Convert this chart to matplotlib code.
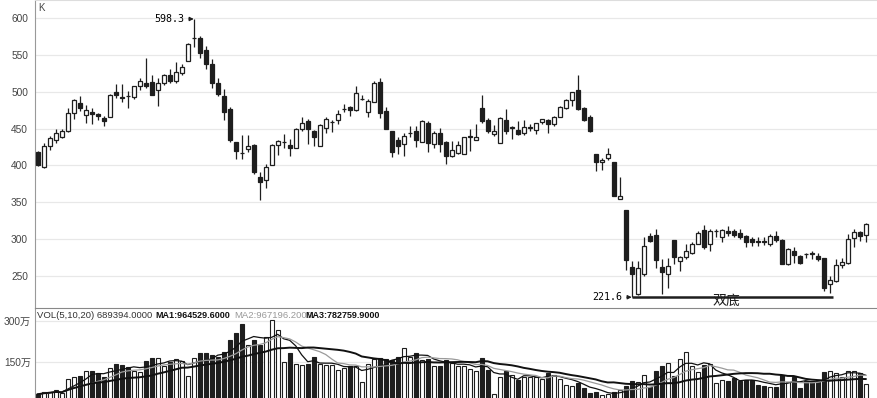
import numpy as np
import pandas as pd
import matplotlib
matplotlib.use("Agg")
import matplotlib.pyplot as plt

# ---------------- data ----------------
opens = [418, 398, 427, 434, 439, 447, 471, 485, 468, 472, 470, 464, 465, 499, 493, 494, 493, 508, 512, 513,
         502, 511, 522, 515, 525, 542, 572.5, 572, 556, 538, 512, 494, 477, 432, 417.5, 422, 428, 385, 380, 401,
         428, 431.5, 428, 424, 450, 460, 446, 427, 451, 459, 461, 476, 479, 475, 490, 472, 486, 513, 474, 446,
         435, 429, 444, 447, 432, 457, 429, 444, 432, 413, 417, 416, 439, 434, 478, 461, 442, 431, 461, 451,
         448, 444, 451, 448, 459, 462, 456, 465, 478, 488, 502, 478, 465, 415, 405, 410, 404, 355, 339.6, 262.6,
         226.4, 253.6, 304.8, 306, 262.6, 253.6, 299, 270, 276, 281.6, 294, 312.5, 294, 311.4, 303.4, 311.6, 310.6, 308, 304.8, 300,
         297.2, 297.2, 293.4, 304.8, 298.9, 266, 283.5, 277.6, 280, 280.9, 277.6, 274.4, 239.1, 243.6, 265.4, 268.5, 301.6, 309.3, 306.1]
closes = [400, 427, 437, 444, 447, 471, 488, 478, 475, 469, 467, 460, 495, 496, 491, 493.5, 507, 514, 508, 496,
          511, 523, 515, 526, 533, 565, 573, 552, 538, 512, 497, 473, 435, 420, 417, 427, 391, 377, 398, 428,
          433, 432, 424, 450, 457, 450, 439, 455, 463, 459.5, 469, 476.5, 475, 498, 490.5, 487, 512, 471, 449, 418,
          427, 440, 444.5, 434, 460, 431, 444, 429, 413, 421, 428, 439, 439.5, 438, 460, 446, 446, 464, 446, 451.5,
          442, 452, 451.5, 457, 463, 456, 465, 479, 488, 499, 477, 462, 447, 404, 408, 416, 358, 358, 271.7, 253.6,
          260.8, 291, 298, 271.7, 256, 264, 276, 276, 283.5, 294, 308, 290, 310.6, 311.6, 312.5, 308, 306, 303.4, 295.7, 295.7,
          297, 297, 304.8, 298.9, 267, 286.6, 279, 268.5, 279.8, 280.7, 273, 234.6, 244.6, 265.4, 269.9, 300.2, 309.3, 304.8, 320.6]
highs = [420, 430, 440, 450, 449, 478, 490, 494, 482, 478, 471, 467, 497, 510, 510, 501, 508, 518, 545, 522,
         518, 524, 531, 540, 538, 566, 598.3, 575, 562, 544, 519, 503, 479, 432, 441, 441, 429, 391, 402, 429,
         435, 442, 436, 451, 465, 463, 448, 456, 465, 461, 475, 483, 480, 507, 495, 490, 514, 519, 479, 447,
         438, 444, 453, 453, 462, 460, 446, 451, 433, 433, 433, 439, 449, 456, 495, 464, 455, 465, 476, 454,
         460, 462, 456, 458, 463, 463, 467, 480, 490, 500, 522, 479, 468, 415, 410, 424, 405, 384, 340, 270,
         271, 302.5, 309, 314, 273, 275, 299, 278, 293.5, 295.7, 311.6, 319, 314, 314, 314, 318, 314, 314, 306, 302.5,
         302.5, 302.5, 307, 311.6, 300, 288, 289, 279, 282, 284.4, 282, 275.3, 250.4, 273, 275.3, 307, 314, 311.6, 321.5]
lows = [399, 397, 421, 431, 437, 445, 463, 474, 457, 456, 462, 454, 465, 491, 486, 478, 490, 502, 505, 495,
        480, 509, 511, 511, 522, 541, 560, 546, 531, 505, 494, 462, 432, 409, 409, 418, 388, 353, 370, 400,
        414, 423, 413, 423, 447, 429, 427, 427, 444, 445, 456, 472, 467, 474, 489, 466, 486, 464, 449, 411,
        415, 413, 438, 425, 432, 418, 424, 418, 402, 412, 415, 416, 420, 434, 457, 444, 440, 431, 442, 436,
        441, 441, 446, 442, 456, 444, 454, 465, 477, 481, 475, 460, 445, 393, 394, 408, 358, 354, 258, 221.6,
        225, 250, 296, 261, 226, 234.6, 267, 257, 273, 280, 293.4, 286.6, 284.4, 302.5, 295.7, 304.8, 302.5, 300.2, 289.8, 291,
        291, 292, 291, 297, 266, 265, 268.5, 267, 275, 273, 271, 230, 227.8, 242.7, 260.8, 267, 289, 298, 295.7]
volumes = [29.7, 37.1, 39.5, 46.9, 33.4, 86.3, 94.9, 97.3, 115.7, 115.7, 107.1, 92.4, 128, 140.3, 137.9, 131.7, 117, 113.3, 152.6, 162.4,
           162.4, 135.4, 150.1, 158.8, 152.6, 98.5, 164.9, 180.9, 180.9, 174.7, 168.6, 184.5, 230, 254.6, 287.8, 211.6, 230, 211.6, 242.3, 303.7,
           266.9, 147.7, 183.3, 140.3, 137.9, 140.3, 166.1, 140.3, 137.9, 137.9, 119.4, 125.6, 134.2, 134.2, 74, 140.3, 158.8, 162.4, 158.8, 156.3,
           166.1, 199.3, 168.6, 180.9, 156.3, 160, 134.2, 134.2, 156.3, 144, 134.2, 135.4, 121.9, 117, 162.4, 119.4, 29.7, 94.9, 117, 101,
           82.6, 94.9, 94.9, 94.9, 86.3, 107.1, 101, 86.3, 64.1, 61.7, 70.3, 51.9, 33.4, 37.1, 27.3, 29.7, 37.1, 45.7, 61.7, 80.1,
           74, 101, 58, 115.7, 134.2, 144, 98.5, 158.8, 184.5, 134.2, 113.3, 137.9, 140.3, 70.3, 81.4, 78.9, 88.7, 78.9, 82.6, 82.6,
           64.1, 61.7, 58, 58, 101, 74, 92, 54.3, 78.9, 78.9, 78.9, 113.3, 114.5, 107.1, 94.9, 114.5, 114.5, 107.1, 68.9]  # 万
price_ticks = [250, 300, 350, 400, 450, 500, 550, 600]
vol_ticks = [150, 300]
vol_tick_labels = ["150万", "300万"]
ma_windows = [5, 10, 20]
header_values = ["689394.0000", "964529.6000", "967196.2000", "782759.9000"]

# ---------------- figure ----------------
W, H = 878, 398
fig = plt.figure(figsize=(W / 100, H / 100), dpi=100)

def fx(px):
    return px / W

def fy(py):
    return 1 - py / H

axp = fig.add_axes([fx(35), fy(308), fx(W - 35), 308 / H])
axv = fig.add_axes([fx(35), 0, fx(W - 35), 90 / H])

n = len(opens)
x = np.arange(n)
o = np.array(opens, float); c = np.array(closes, float)
h = np.array(highs, float); l = np.array(lows, float)
up = c >= o
BLACK = "#1e1e1e"
face = np.where(up, "white", BLACK)

# price
axp.vlines(x, l, h, color=BLACK, lw=0.9, zorder=2)
body_b = np.minimum(o, c)
body_h = np.maximum(np.abs(c - o), 0.4)
axp.bar(x, body_h, bottom=body_b, width=0.68, color=face, edgecolor=BLACK, linewidth=0.9, zorder=3)

xlim = (-0.45, -0.45 + (W - 35) / 6.0)
axp.set_xlim(*xlim)
axp.set_ylim(207, 624)
axp.set_yticks(price_ticks)
axp.grid(axis="y", color="#e8e8e8", lw=0.9)
axp.set_axisbelow(True)
axp.set_xticks([])
for s in ["right", "bottom"]:
    axp.spines[s].set_visible(False)
axp.spines["top"].set_color("#dddddd")
axp.spines["left"].set_color("#999999")
axp.tick_params(axis="y", length=0, pad=5, labelsize=7.3, labelcolor="#444444")
for t in axp.get_yticklabels():
    t.set_fontfamily("Liberation Sans")
axp.text(0.004, 0.99, "K", transform=axp.transAxes, ha="left", va="top",
         fontsize=7, color="#444444", family="Liberation Sans")

# annotations
imax = int(np.argmax(h))
axp.annotate("598.3", xy=(imax, h[imax]), xytext=(imax - 1.5, h[imax]),
             ha="right", va="center", fontsize=7.2, family="DejaVu Sans Mono",
             arrowprops=dict(arrowstyle="-|>", color=BLACK, lw=0.8, mutation_scale=6,
                             shrinkA=1, shrinkB=0))
imin = int(np.argmin(l))
axp.annotate("221.6", xy=(imin, l[imin]), xytext=(imin - 1.5, l[imin]),
             ha="right", va="center", fontsize=7.2, family="DejaVu Sans Mono",
             arrowprops=dict(arrowstyle="-|>", color=BLACK, lw=0.8, mutation_scale=6,
                             shrinkA=1, shrinkB=0))
i2 = imin + 30 + int(np.argmin(l[imin + 30:]))
axp.plot([imin, i2 + 0.6], [l[imin], l[imin]], color=BLACK, lw=1.8, zorder=4, solid_capstyle="butt")
fig.text(fx(726), fy(301), "双底", ha="center", va="center", fontsize=10,
         family=["Noto Sans CJK SC", "DejaVu Sans"], color=BLACK)

# volume
v = np.array(volumes, float)
axv.bar(x, v, width=0.68, color=face, edgecolor=BLACK, linewidth=0.8, zorder=2)
vs = pd.Series(v)
ma_styles = [dict(color="#111111", lw=0.9), dict(color="#9a9a9a", lw=0.9), dict(color="#111111", lw=1.4)]
for w, st in zip(ma_windows, ma_styles):
    axv.plot(x, vs.rolling(w, min_periods=1).mean(), zorder=3, **st)
axv.set_xlim(*xlim)
axv.set_ylim(16, 348)
axv.set_yticks(vol_ticks)
axv.set_yticklabels(vol_tick_labels)
axv.grid(axis="y", color="#e8e8e8", lw=0.9)
axv.set_axisbelow(True)
axv.set_xticks([])
for s in ["right", "bottom"]:
    axv.spines[s].set_visible(False)
axv.spines["top"].set_color("#888888")
axv.spines["left"].set_color("#999999")
axv.tick_params(axis="y", length=0, pad=3, labelsize=7.3, labelcolor="#444444")
for t in axv.get_yticklabels():
    t.set_fontfamily(["Liberation Sans", "Noto Sans CJK SC"])

hy = fy(316)
fig.text(fx(37), hy, "VOL(5,10,20) " + header_values[0], fontsize=6.8, family="Liberation Sans",
         color="#333333", va="center")
fig.text(fx(155), hy, "MA1:" + header_values[1], fontsize=6.5, family="Liberation Sans",
         weight="bold", color="#111111", va="center")
fig.text(fx(234), hy, "MA2:" + header_values[2], fontsize=6.8, family="Liberation Sans",
         color="#999999", va="center")
fig.text(fx(305), hy, "MA3:" + header_values[3], fontsize=6.5, family="Liberation Sans",
         weight="bold", color="#111111", va="center")

fig.savefig("out.png", dpi=100)
